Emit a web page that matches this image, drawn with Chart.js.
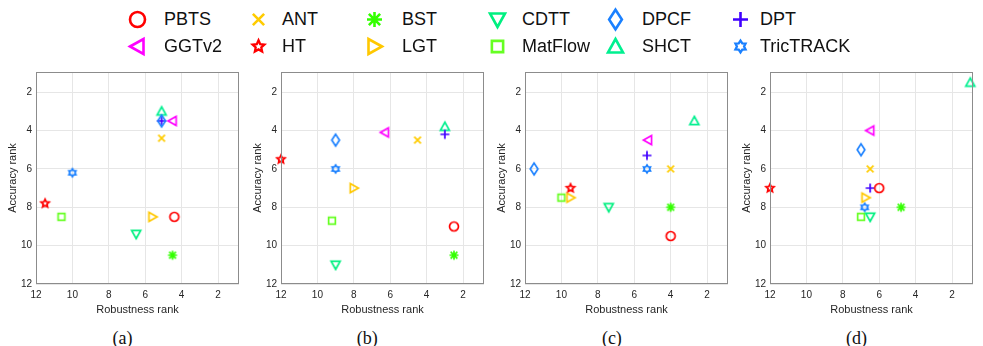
<!DOCTYPE html>
<html>
<head>
<meta charset="utf-8">
<script src="https://cdn.jsdelivr.net/npm/chart.js@4/dist/chart.umd.min.js"></script>
<style>
  html, body { margin: 0; padding: 0; background: #fff; overflow: hidden; }
  body { width: 983px; height: 346px; position: relative; font-family: "Liberation Sans", Arial, sans-serif; }
  .panel { position: absolute; top: 60px; }
  .leg-mark { position: absolute; }
  .leg-text { position: absolute; font-size: 18px; line-height: 18px; color: #111; white-space: nowrap; }
  .cap { position: absolute; width: 80px; text-align: center; font-family: "Liberation Serif", "Times New Roman", serif; font-size: 18px; line-height: 18px; color: #111; }
</style>
</head>
<body>
<div id="legend"></div>
<canvas id="p0" class="panel" width="245" height="260" style="left:0px"></canvas>
<canvas id="p1" class="panel" width="245" height="260" style="left:245px"></canvas>
<canvas id="p2" class="panel" width="245" height="260" style="left:489px"></canvas>
<canvas id="p3" class="panel" width="245" height="260" style="left:734px"></canvas>
<div id="caps"></div>
<script>
// ── data ────────────────────────────────────────────────
const METHODS = ['PBTS', 'ANT', 'BST', 'CDTT', 'DPCF', 'DPT',
                 'GGTv2', 'HT', 'LGT', 'MatFlow', 'SHCT', 'TricTRACK'];
const CAPTIONS = ['(a)', '(b)', '(c)', '(d)'];

// robustness rank (x) / accuracy rank (y), same order as METHODS
const ROBUST_A = [4.4, 5.1, 4.5, 6.5, 5.1, 5.1, 4.5, 11.5, 5.6, 10.6, 5.1, 10];
const ACC_A    = [8.5, 4.4, 10.5, 9.4, 3.5, 3.5, 3.5, 7.8, 8.5, 8.5, 3.0, 6.2];

const ROBUST_B = [2.5, 4.5, 2.5, 9, 9, 3, 6.3, 12, 8, 9.2, 3, 9];
const ACC_B    = [9, 4.5, 10.5, 11, 4.5, 4.2, 4.1, 5.5, 7, 8.7, 3.8, 6];

const ROBUST_C = [4, 4, 4, 7.4, 11.5, 5.3, 5.25, 9.5, 9.5, 10, 2.7, 5.3];
const ACC_C    = [9.5, 6, 8, 8, 6, 5.3, 4.5, 7, 7.5, 7.5, 3.5, 6];

const ROBUST_D = [6, 6.5, 4.8, 6.5, 7, 6.5, 6.5, 12, 6.75, 7, 1, 6.8];
const ACC_D    = [7, 6, 8, 8.5, 5, 7, 4, 7, 7.5, 8.5, 1.5, 8];

const X_TICKS = [2, 4, 6, 8, 10, 12];
const Y_TICKS = [2, 4, 6, 8, 10, 12];

// ── style ───────────────────────────────────────────────
const SHAPES = ['o', 'x', '*', 'v', 'd', '+', '<', 'p', '>', 's', '^', 'h'];
const COLORS = ['#ff0000', '#ffcc00', '#33ff00', '#00f080', '#1a80ff', '#4000ff',
                '#ff00ff', '#ff0000', '#ffc800', '#66ff22', '#00f090', '#1a80ff'];
const TXT = '#262626';
const GRID = '#e6e6e6';
const BOX = '#8c8c8c';

// matlab-like markers drawn into small canvases
function marker(shape, color, s, lw) {
  const n = Math.ceil(2 * s * 1.4 + 2 * lw + 4);
  const c = document.createElement('canvas');
  c.width = c.height = n;
  const g = c.getContext('2d');
  g.translate(n / 2, n / 2);
  g.strokeStyle = color;
  g.lineWidth = lw;
  g.lineJoin = 'miter';
  g.beginPath();
  const poly = pts => { pts.forEach((p, i) => i ? g.lineTo(p[0], p[1]) : g.moveTo(p[0], p[1])); g.closePath(); };
  const star = (k, r1, r2) => {
    const pts = [];
    for (let i = 0; i < 2 * k; i++) {
      const a = -Math.PI / 2 + i * Math.PI / k;
      const r = i % 2 ? r2 : r1;
      pts.push([r * Math.cos(a), r * Math.sin(a)]);
    }
    poly(pts);
  };
  const t = 0.75 * s;
  switch (shape) {
    case 'o': g.arc(0, 0, s, 0, Math.PI * 2); break;
    case 'x': g.moveTo(-t, -t); g.lineTo(t, t); g.moveTo(t, -t); g.lineTo(-t, t); break;
    case '+': g.moveTo(-s, 0); g.lineTo(s, 0); g.moveTo(0, -s); g.lineTo(0, s); break;
    case '*':
      g.moveTo(-s, 0); g.lineTo(s, 0); g.moveTo(0, -s); g.lineTo(0, s);
      g.moveTo(-t, -t); g.lineTo(t, t); g.moveTo(t, -t); g.lineTo(-t, t); break;
    case 's': poly([[-t, -t], [t, -t], [t, t], [-t, t]]); break;
    case 'd': poly([[0, -1.3 * s], [0.85 * s, 0], [0, 1.3 * s], [-0.85 * s, 0]]); break;
    case '^': poly([[0, -s], [s, 0.8 * s], [-s, 0.8 * s]]); break;
    case 'v': poly([[0, s], [s, -0.8 * s], [-s, -0.8 * s]]); break;
    case '<': poly([[-s, 0], [0.8 * s, -s], [0.8 * s, s]]); break;
    case '>': poly([[s, 0], [-0.8 * s, -s], [-0.8 * s, s]]); break;
    case 'p': star(5, 0.95 * s, 0.45 * s); break;
    case 'h': star(6, 0.9 * s, 0.55 * s); break;
  }
  g.stroke();
  return c;
}

const plotMarkers = SHAPES.map((sh, i) => marker(sh, COLORS[i], 4.5, 1.7));

// ── legend ──────────────────────────────────────────────
const LEG_MARK_X = [137, 258, 374, 497, 615, 740];
const LEG_TEXT_X = [164, 282, 402, 522, 642, 760];
const LEG_ROW_Y = [19, 46];
const legend = document.getElementById('legend');
METHODS.forEach((m, i) => {
  const col = i % 6, row = Math.floor(i / 6);
  const star = SHAPES[i] === 'p' || SHAPES[i] === 'h';
  const mk = marker(SHAPES[i], COLORS[i], star ? 6.5 : 7.5, star ? 2.3 : 2.6);
  mk.className = 'leg-mark';
  mk.style.left = (LEG_MARK_X[col] - mk.width / 2) + 'px';
  mk.style.top = (LEG_ROW_Y[row] - mk.height / 2) + 'px';
  legend.appendChild(mk);
  const tx = document.createElement('div');
  tx.className = 'leg-text';
  tx.textContent = m;
  tx.style.left = LEG_TEXT_X[col] + 'px';
  tx.style.top = (LEG_ROW_Y[row] - 9) + 'px';
  legend.appendChild(tx);
});

// ── panels ──────────────────────────────────────────────
Chart.defaults.font.family = '"Liberation Sans", Arial, sans-serif';

const frame = {
  id: 'frame',
  afterDatasetsDraw(chart) {
    const { ctx, chartArea: a } = chart;
    ctx.save();
    ctx.strokeStyle = BOX;
    ctx.lineWidth = 1;
    ctx.strokeRect(Math.round(a.left) + 0.5, Math.round(a.top) + 0.5,
                   Math.round(a.right - a.left) - 1, Math.round(a.bottom - a.top) - 1);
    ctx.restore();
  }
};

function panelChart(id, xs, ys) {
  return new Chart(document.getElementById(id), {
    type: 'scatter',
    data: {
      datasets: METHODS.map((m, i) => ({
        label: m,
        data: [{ x: xs[i], y: ys[i] }],
        pointStyle: plotMarkers[i],
        pointRadius: 5,
        clip: false
      }))
    },
    options: {
      responsive: false,
      animation: false,
      layout: { padding: { top: 12, right: 5, left: 0, bottom: 0 } },
      plugins: { legend: { display: false }, tooltip: { enabled: false } },
      scales: {
        x: {
          type: 'linear', reverse: true, min: 0.85, max: 12,
          afterBuildTicks: s => { s.ticks = X_TICKS.map(v => ({ value: v })); },
          afterFit: s => { s.height = 36; },
          ticks: { color: TXT, font: { size: 10 }, padding: 5, autoSkip: false, maxRotation: 0 },
          grid: { color: GRID, drawTicks: false },
          border: { display: false },
          title: { display: true, text: 'Robustness rank', color: TXT, font: { size: 11 }, padding: { top: 0, bottom: 3 } }
        },
        y: {
          type: 'linear', reverse: true, min: 0.95, max: 12,
          afterBuildTicks: s => { s.ticks = Y_TICKS.map(v => ({ value: v })); },
          afterFit: s => { s.width = 36; },
          ticks: { color: TXT, font: { size: 10 }, padding: 4, autoSkip: false },
          grid: { color: GRID, drawTicks: false },
          border: { display: false },
          title: { display: true, text: 'Accuracy rank', color: TXT, font: { size: 11 }, padding: { top: 6, bottom: 0 } }
        }
      }
    },
    plugins: [frame]
  });
}

panelChart('p0', ROBUST_A, ACC_A);
panelChart('p1', ROBUST_B, ACC_B);
panelChart('p2', ROBUST_C, ACC_C);
panelChart('p3', ROBUST_D, ACC_D);

// captions under each panel
const caps = document.getElementById('caps');
CAPTIONS.forEach((c, i) => {
  const d = document.createElement('div');
  d.className = 'cap';
  d.textContent = c;
  d.style.left = (122.5 + i * 244.7 - 40) + 'px';
  d.style.top = (338 - 9) + 'px';
  caps.appendChild(d);
});
</script>
</body>
</html>
